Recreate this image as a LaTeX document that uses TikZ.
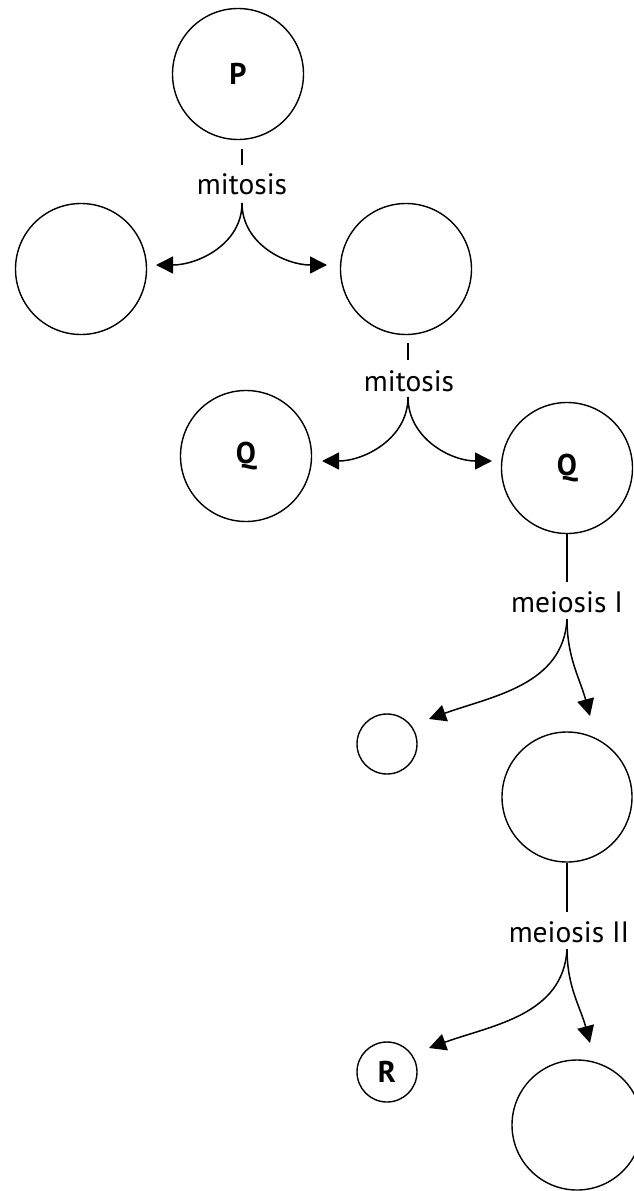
\documentclass[tikz,border=0pt]{standalone}
\usepackage{fontspec}
\setmainfont{PT Sans}
\usetikzlibrary{arrows.meta}
\begin{document}
\begin{tikzpicture}[x=1pt,y=1pt,
  cell/.style={circle,draw,line width=1.4pt,inner sep=0pt,minimum size=#1,font=\fontsize{30}{33}\selectfont\bfseries},
  cell/.default=131pt,
  lbl/.style={anchor=base,inner sep=0pt,font=\fontsize{29.5}{32}\selectfont},
  tick/.style={line width=1.4pt},
  arr/.style={line width=1.5pt,-{Triangle[length=17pt,width=17pt]}}]
\useasboundingbox (0,0) rectangle (633,-1191);
% cells
\node[cell] (P) at (238,-74) {P};
\node[cell] (A) at (81,-269) {};
\node[cell] (B) at (406,-269) {};
\node[cell] (Q1) at (246,-456) {Q};
\node[cell] (Q2) at (567,-468) {Q};
\node[cell=60pt] (S) at (387,-744) {};
\node[cell=130pt] (C) at (567,-797) {};
\node[cell=60pt] (R) at (387,-1072) {R};
\node[cell=130pt] (D) at (577,-1125) {};
% labels
\node[lbl] (m1) at (242,-194) {mitosis};
\node[lbl] (m2) at (409,-391) {mitosis};
\node[lbl] (m3) at (567,-612) {meiosis I};
\node[lbl] (m4) at (569,-942) {meiosis II};
% coordinates
\coordinate (t1a) at (242,-149); \coordinate (t1b) at (242,-165);
\coordinate (f1) at (242,-203);
\coordinate (a1L) at (156,-265); \coordinate (a1R) at (327,-265);
\coordinate (t2a) at (408,-343); \coordinate (t2b) at (408,-360);
\coordinate (f2) at (408,-397);
\coordinate (a2L) at (322,-461); \coordinate (a2R) at (492,-461);
\coordinate (t3b) at (567,-582);
\coordinate (f3) at (567,-619);
\coordinate (a3L) at (429,-719); \coordinate (a3R) at (590,-716);
\coordinate (t4b) at (567,-912);
\coordinate (f4) at (567,-949);
\coordinate (a4L) at (429,-1048); \coordinate (a4R) at (590,-1043);
% connectors
\draw[tick] (t1a) -- (t1b);
\draw[arr] (f1) to[out=-90,in=0] (a1L);
\draw[arr] (f1) to[out=-90,in=180] (a1R);
\draw[tick] (t2a) -- (t2b);
\draw[arr] (f2) to[out=-90,in=0] (a2L);
\draw[arr] (f2) to[out=-90,in=180] (a2R);
\draw[tick] (Q2.south) -- (t3b);
\draw[arr] (f3) to[out=-93,in=20] (a3L);
\draw[arr] (f3) to[out=-90,in=105] (a3R);
\draw[tick] (C.south) -- (t4b);
\draw[arr] (f4) to[out=-93,in=20] (a4L);
\draw[arr] (f4) to[out=-90,in=105] (a4R);
\end{tikzpicture}
\end{document}
